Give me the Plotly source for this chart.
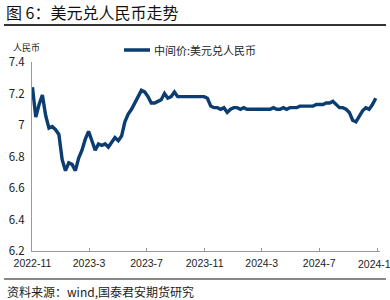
import pandas as pd
import plotly.graph_objects as go

# weekly dates starting 2022-11-01
dates = pd.date_range("2022-11-01", periods=105, freq="7D")
values = [
    7.24, 7.05, 7.13, 7.19, 7.06, 6.98, 6.99, 6.97, 6.94, 6.78,
    6.71, 6.76, 6.75, 6.71, 6.79, 6.84, 6.91, 6.96, 6.90, 6.84,
    6.88, 6.87, 6.88, 6.86, 6.89, 6.92, 6.90, 6.93, 7.02, 7.07,
    7.10, 7.14, 7.17, 7.22, 7.21, 7.18, 7.14, 7.14, 7.15, 7.16,
    7.20, 7.17, 7.18, 7.21, 7.18, 7.18, 7.18, 7.18, 7.18, 7.18,
    7.18, 7.18, 7.18, 7.17, 7.12, 7.11, 7.11, 7.10, 7.11, 7.08,
    7.10, 7.11, 7.11, 7.10, 7.11, 7.10, 7.10, 7.10, 7.10, 7.10,
    7.10, 7.10, 7.10, 7.11, 7.10, 7.10, 7.11, 7.10, 7.11, 7.11,
    7.11, 7.12, 7.12, 7.12, 7.12, 7.12, 7.13, 7.13, 7.13, 7.14,
    7.14, 7.15, 7.13, 7.11, 7.11, 7.10, 7.08, 7.03, 7.02, 7.06,
    7.09, 7.11, 7.10, 7.13, 7.17,
]

tick_dates = ["2022-11-01", "2023-03-01", "2023-07-01", "2023-11-01",
              "2024-03-01", "2024-07-01"]
tick_text = ["2022-11", "2023-3", "2023-7", "2023-11", "2024-3", "2024-7"]
last_tick_date = "2024-11-01"
last_tick_text = "2024-11"
y_ticks = [6.2, 6.4, 6.6, 6.8, 7.0, 7.2, 7.4]
y_text = ["6.2", "6.4", "6.6", "6.8", "7", "7.2", "7.4"]

title = "图 6：美元兑人民币走势"
series_name = "中间价:美元兑人民币"
unit = "人民币"
source = "资料来源：wind,国泰君安期货研究"

CJK = "Noto Sans CJK SC"
NAVY = "#0b3d72"

fig = go.Figure()
fig.add_trace(go.Scatter(x=dates, y=values, mode="lines", name=series_name,
                         line=dict(color=NAVY, width=3.4), showlegend=False))

W, H = 390, 300
pl, pr, pt, pb = 32, 10, 62, 49
pw, ph = W - pl - pr, H - pt - pb
def px(x):
    return (x - pl) / pw
def py(y):
    return (H - pb - y) / ph

fig.update_layout(
    width=W, height=H,
    margin=dict(l=pl, r=pr, t=pt, b=pb),
    paper_bgcolor="white", plot_bgcolor="white",
    xaxis=dict(type="date", range=["2022-10-31", "2024-11-07"],
               tickvals=tick_dates + [last_tick_date], ticktext=tick_text + [""],
               showgrid=False, zeroline=False,
               showline=True, linecolor="#999999", linewidth=1,
               ticks="inside", ticklen=3, tickcolor="#999999",
               ticklabelstandoff=2,
               tickfont=dict(family="Liberation Sans, Arial", size=10.5, color="#222")),
    yaxis=dict(range=[6.2, 7.4], tickvals=y_ticks, ticktext=y_text,
               showgrid=False, zeroline=False,
               showline=True, linecolor="#999999", linewidth=1,
               ticks="", ticklabelstandoff=4,
               tickfont=dict(family=CJK, size=11.5, color="#222")),
)

def ann(x, y, text, size, anchor="left", color="#222"):
    fig.add_annotation(x=px(x), y=py(y), xref="paper", yref="paper", text=text,
                       showarrow=False, xanchor=anchor, yanchor="middle",
                       font=dict(family=CJK, size=size, color=color))

ann(4, 12, title, 16, color="#111")
ann(11, 47, unit, 9)
ann(5, 291, source, 12)
ann(152, 50, series_name, 11)

# last x tick label, partially cut by the canvas edge as in the reference
fig.add_annotation(x=last_tick_date, y=py(264), xref="x", yref="paper", text=last_tick_text,
                   showarrow=False, xanchor="center", yanchor="middle",
                   font=dict(family="Liberation Sans, Arial", size=10.5, color="#222"))

fig.add_shape(type="line", xref="paper", yref="paper", x0=px(4), x1=px(386), y0=py(25), y1=py(25),
              line=dict(color="#333", width=2))
fig.add_shape(type="line", xref="paper", yref="paper", x0=px(4), x1=px(386), y0=py(279), y1=py(279),
              line=dict(color="#888", width=2))
fig.add_shape(type="line", xref="paper", yref="paper", x0=px(124), x1=px(150), y0=py(50), y1=py(50),
              line=dict(color=NAVY, width=3.5))

fig.write_html("out.html")
